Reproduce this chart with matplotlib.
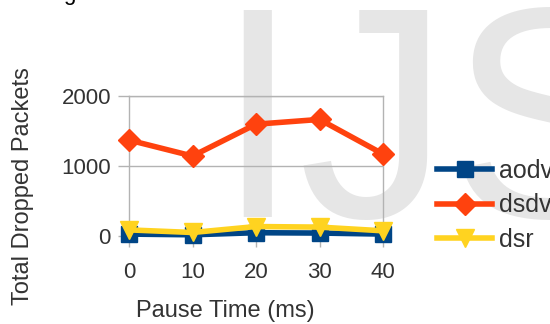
import matplotlib
matplotlib.use("Agg")
import matplotlib.pyplot as plt

pause_time = [0, 10, 20, 30, 40]
aodv = [20, 10, 40, 35, 20]
dsdv = [1363, 1135, 1590, 1658, 1164]
dsr = [80, 43, 128, 120, 67]
series_names = ["aodv", "dsdv", "dsr"]
y_ticks = [0, 1000, 2000]

W, H = 550, 324
plt.rcParams['font.family'] = ['Liberation Sans', 'DejaVu Sans']
fig = plt.figure(figsize=(W / 100, H / 100), dpi=100)

def fx(px):
    return px / W

def fy(py):
    return 1 - py / H

# watermark
fig.text(fx(215), fy(217), "IJS", fontsize=217, color="#e6e6e6",
         ha="left", va="baseline", zorder=0)
# cut-off title text
fig.text(fx(63), fy(0), "g", fontsize=16, color="#000000", ha="left", va="baseline")

left, right, top, bottom = 129, 383, 95.5, 235.5
ax = fig.add_axes([fx(left), fy(bottom), fx(right - left), (bottom - top) / H])
ax.set_facecolor("none")
ax.set_zorder(1)

grid_c = "#b3b3b3"
text_c = "#333333"

ax.plot(pause_time, aodv, color="#004586", lw=4, marker="s", ms=11, label=series_names[0], clip_on=False, zorder=3)
ax.plot(pause_time, dsdv, color="#ff420e", lw=4, marker="D", ms=11, label=series_names[1], clip_on=False, zorder=4)
ax.plot(pause_time, dsr, color="#ffd320", lw=4, marker="v", ms=13, label=series_names[2], clip_on=False, zorder=5)

ax.set_xlim(0, 40)
ax.set_ylim(0, 2000)
ax.set_xticks(pause_time)
ax.set_yticks(y_ticks)
ax.yaxis.grid(True, color=grid_c, lw=1)
ax.set_axisbelow(True)
for s in ax.spines.values():
    s.set_color(grid_c)
    s.set_linewidth(1)
ax.spines['bottom'].set_visible(False)
ax.tick_params(axis='both', direction='out', length=8, width=1, color=grid_c,
               labelsize=16, labelcolor=text_c)
ax.tick_params(axis='y', pad=5)
ax.tick_params(axis='x', pad=11)

fig.text(fx(225), fy(311), "Pause Time (ms)", fontsize=17, color=text_c, ha="center", va="center")
fig.text(fx(23), fy(186), "Total Dropped Packets", fontsize=17, color=text_c,
         ha="center", va="center", rotation=90)

leg = ax.legend(loc="upper left", bbox_to_anchor=(fx(427), fy(149)), bbox_transform=fig.transFigure,
                frameon=False, fontsize=18, handlelength=2.2, labelspacing=0.42,
                handletextpad=0.3, borderaxespad=0, labelcolor=text_c)
leg.set_zorder(6)

fig.savefig("out.png", dpi=100)
